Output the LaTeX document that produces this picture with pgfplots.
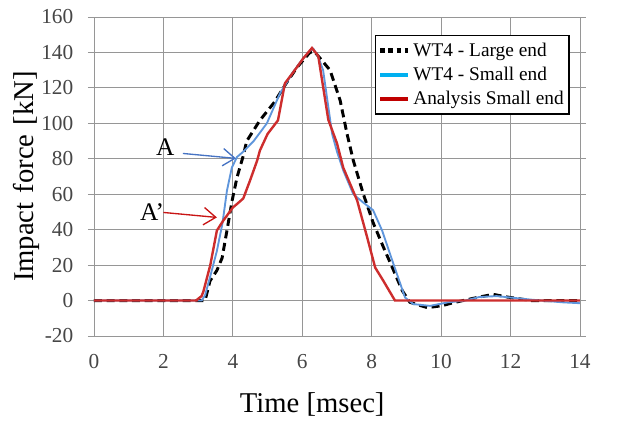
\documentclass[border=0pt]{standalone}
\usepackage{fontspec}
\setmainfont{Liberation Serif}
\usepackage{pgfplots}
\pgfplotsset{compat=1.18}
\usetikzlibrary{arrows.meta}

\definecolor{gridgray}{RGB}{150,150,150}
\definecolor{tickgray}{RGB}{70,70,70}
\definecolor{lineblue}{RGB}{95,150,220}
\definecolor{legblue}{RGB}{0,176,240}
\definecolor{linered}{RGB}{205,45,45}
\definecolor{legred}{RGB}{192,0,0}
\definecolor{arrblue}{RGB}{70,115,195}
\definecolor{arrred}{RGB}{200,20,20}

\begin{document}
\begin{tikzpicture}
\begin{axis}[
    scale only axis,
    width=364.5pt, height=239.25pt,
    xmin=0, xmax=14, ymin=-20, ymax=160,
    xtick={0,2,...,14}, ytick={-20,0,...,160},
    grid=major,
    major grid style={gridgray, line width=0.6pt},
    axis line style={gridgray, line width=0.7pt},
    x tick style={draw=none},
    y tick style={gridgray, line width=0.6pt},
    tick align=outside,
    major tick length=4.5pt,
    tick label style={font=\rmfamily\fontsize{16}{18}\selectfont, text=tickgray},
    /pgf/number format/assume math mode=true,
    xticklabel style={yshift=-6pt},
    yticklabel style={xshift=-7.5pt},
    xlabel={Time [msec]},
    ylabel={Impact\hspace{1.5pt} force\hspace{1.5pt} [kN]},
    label style={font=\rmfamily\fontsize{21.5}{24}\selectfont},
    xlabel style={at={(axis description cs:0.449,0)}, anchor=base, yshift=-57.75pt},
    ylabel style={at={(axis description cs:-0.103,0.5)}, anchor=south},
    legend style={at={(0.979,0.944)}, anchor=north east, draw=black,
        line width=1.1pt, font=\rmfamily\fontsize{14.5}{16}\selectfont,
        row sep=2.5pt, inner xsep=2pt, inner ysep=3.5pt,
        nodes={inner sep=2pt}},
    legend cell align=left,
    legend image code/.code={\draw[#1] (0pt,0pt) -- (21pt,0pt);},
]
\addlegendimage{black, line width=3.5pt, dash pattern=on 3.5pt off 2.6pt}
\addlegendentry{WT4 - Large end}
\addlegendimage{legblue, line width=3pt}
\addlegendentry{WT4 - Small end}
\addlegendimage{legred, line width=3pt}
\addlegendentry{Analysis Small end}

\addplot[forget plot, black, line width=2.2pt, dash pattern=on 6pt off 3.5pt] coordinates {
(0,0) (3.2,0) (3.34,11) (3.54,17) (3.69,24) (3.83,39.5) (3.98,56.5) (4.12,69.5)
(4.29,81) (4.4,90) (4.78,101.7) (5.2,112) (5.55,123) (5.85,131.6) (6.22,140)
(6.35,140.5) (6.5,137) (6.8,130) (7.09,113) (7.29,94) (7.47,79) (7.76,60)
(8.05,43.5) (8.34,30) (8.63,17) (8.88,5.6) (9.1,-1) (9.6,-4) (10.0,-3)
(10.4,-1) (11.1,2) (11.5,3.5) (11.9,2) (12.6,0) (14,0)
};
\addplot[forget plot, lineblue, line width=1.4pt] coordinates {
(0,0) (3.1,0) (3.2,3) (3.34,13) (3.54,28) (3.7,43.5) (3.83,62) (3.97,75)
(4.12,81) (4.3,84) (4.6,90) (4.98,100) (5.36,117) (5.74,129) (6.0,136)
(6.22,141) (6.32,142) (6.45,138) (6.6,130) (6.86,94) (7.0,84) (7.18,73.4)
(7.47,60) (7.75,55.4) (8.04,51) (8.3,39.5) (8.62,21) (8.96,1.7) (9.2,-2)
(9.68,-3) (10.2,-1) (10.7,0) (11.1,2) (11.6,2.5) (12.1,1.5) (12.6,0.5)
(13.5,-1) (14,-1.5)
};
\addplot[forget plot, linered, line width=1.8pt] coordinates {
(0,0) (2.95,0) (3.0,1) (3.1,2.5) (3.15,5) (3.35,20) (3.54,39.5) (3.72,45)
(4.0,52.5) (4.15,55) (4.3,57.6) (4.5,68) (4.7,79) (4.78,84.7) (5.0,94)
(5.3,101.7) (5.5,122.6) (5.74,128.8) (6.03,136.7) (6.28,142.5) (6.46,138)
(6.75,102) (7.0,88.7) (7.18,75) (7.58,56.5) (7.87,35.6) (8.1,18.6)
(8.33,11.3) (8.67,0) (14,0)
};

\node[font=\rmfamily\fontsize{19}{22}\selectfont] at (axis cs:2.05,86.4) {A};
\draw[arrblue, line width=1pt, -{Straight Barb[length=9pt, width=13pt]}]
    (axis cs:2.56,83) -- (axis cs:4.09,80.2);
\node[font=\rmfamily\fontsize{19}{22}\selectfont] at (axis cs:1.67,49.7) {A’};
\draw[arrred, line width=1pt, -{Straight Barb[length=9pt, width=13pt]}]
    (axis cs:2.0,49.7) -- (axis cs:3.54,46.9);
\end{axis}
\pgfresetboundingbox
\path ([shift={(-70.5pt,-65pt)}]current axis.south west)
    rectangle ([shift={(31.5pt,12.75pt)}]current axis.north east);
\end{tikzpicture}
\end{document}
